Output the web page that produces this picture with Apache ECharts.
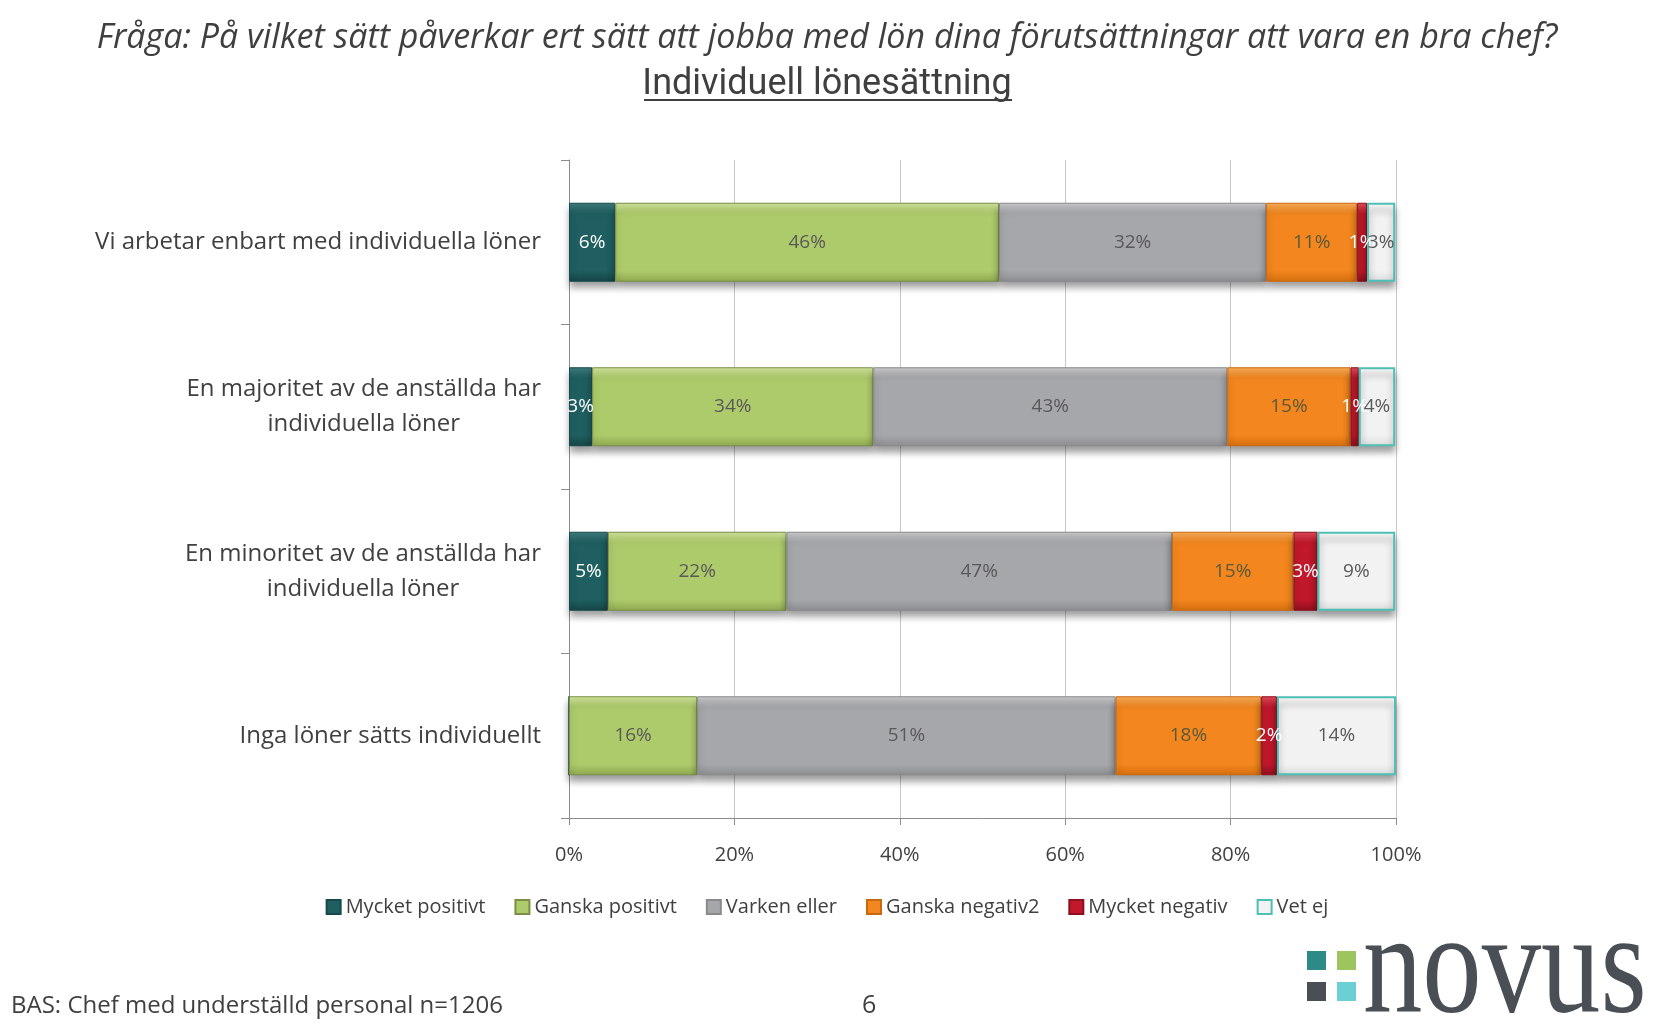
<!DOCTYPE html>
<html>
<head>
<meta charset="utf-8">
<script src="https://cdn.jsdelivr.net/npm/echarts@6/dist/echarts.min.js"></script>
<style>
html,body{margin:0;padding:0;background:#fff;}
#c{width:1654px;height:1029px;}
</style>
</head>
<body>
<div id="c"></div>
<script>
// ---- data ----
var categories = [
  'Vi arbetar enbart med individuella löner',
  'En majoritet av de anställda har\nindividuella löner',
  'En minoritet av de anställda har\nindividuella löner',
  'Inga löner sätts individuellt'
];
var seriesNames = ['Mycket positivt', 'Ganska positivt', 'Varken eller', 'Ganska negativ2', 'Mycket negativ', 'Vet ej'];
var mycketPositivt = [5.6, 2.8, 4.7, 0];
var ganskaPositivt = [46.4, 34.0, 21.6, 15.5];
var varkenEller    = [32.3, 42.8, 46.6, 50.6];
var ganskaNegativ  = [11.0, 14.9, 14.7, 17.6];
var mycketNegativ  = [1.2, 1.0, 2.9, 1.9];
var vetEj          = [3.4, 4.4, 9.4, 14.4];
var xTicks = [0, 20, 40, 60, 80, 100];

var titleText = 'Fråga: På vilket sätt påverkar ert sätt att jobba med lön dina förutsättningar att vara en bra chef?';
var subtitleText = 'Individuell lönesättning';
var footerText = 'BAS: Chef med underställd personal n=1206';
var pageNumber = '6';

// ---- styles ----
var palette = [
  {top:'#3d7c7e', base:'#1f5f61', bottom:'#164446', border:'#174a4c', label:'#ffffff'},
  {top:'#cfe39b', base:'#aecb6b', bottom:'#8ea84f', border:'#7a8f45', label:'#595959'},
  {top:'#c9c9cc', base:'#a6a7ab', bottom:'#8c8d90', border:'#8a8a8c', label:'#595959'},
  {top:'#f9ad5a', base:'#f3861e', bottom:'#d56e0e', border:'#c8690f', label:'#5a5a3a'},
  {top:'#e04a5a', base:'#c2182b', bottom:'#8e0f1d', border:'#8e0f1d', label:'#ffffff'},
  {top:'#ffffff', base:'#f2f2f2', bottom:'#dcdcdc', border:'#4dbfb5', label:'#595959'}
];
var dataSets = [mycketPositivt, ganskaPositivt, varkenEller, ganskaNegativ, mycketNegativ, vetEj];

function grad(p){
  return new echarts.graphic.LinearGradient(0,0,0,1,[
    {offset:0, color:p.top},
    {offset:0.14, color:p.base},
    {offset:0.86, color:p.base},
    {offset:1, color:p.bottom}
  ]);
}

var series = dataSets.map(function(d, i){
  var p = palette[i];
  return {
    name: seriesNames[i],
    type: 'bar',
    stack: 'total',
    barWidth: 79,
    data: d,
    itemStyle: {
      color: grad(p),
      borderColor: p.border,
      borderWidth: i === 5 ? 2 : 1,
      shadowColor: 'rgba(0,0,0,0.4)',
      shadowBlur: 7,
      shadowOffsetY: 6
    },
    label: {
      show: true,
      position: 'inside',
      color: p.label,
      fontFamily: "'Open Sans',sans-serif",
      fontSize: 19,
      formatter: function(prm){ return prm.value > 0 ? Math.round(prm.value) + '%' : ''; }
    }
  };
});

var chart = echarts.init(document.getElementById('c'));
chart.setOption({
  backgroundColor: '#ffffff',
  animation: false,
  title: [
    {
      text: titleText,
      left: 'center',
      top: 16,
      textStyle: {fontFamily: "'Open Sans',sans-serif", fontStyle:'italic', fontWeight:'normal', fontSize: 34, color:'#3f3f3f'}
    },
    {
      text: subtitleText,
      left: 'center',
      top: 62,
      textStyle: {fontFamily: "'Roboto',sans-serif", fontWeight:'normal', fontSize: 36, color:'#3f3f3f'}
    }
  ],
  legend: {
    data: seriesNames,
    bottom: 107,
    left: 'center',
    itemWidth: 14,
    itemHeight: 14,
    itemGap: 29,
    icon: 'rect',
    textStyle: {fontFamily: "'Open Sans',sans-serif", fontSize: 20, color:'#404040'}
  },
  grid: {left: 569, right: 258, top: 160, bottom: 211, containLabel: false},
  xAxis: {
    type: 'value',
    min: 0, max: 100, interval: 20,
    axisLine: {show:true, lineStyle:{color:'#8c8c8c'}},
    axisTick: {show:true, length:7, lineStyle:{color:'#8c8c8c'}},
    splitLine: {show:true, lineStyle:{color:'#c8c8c8'}},
    axisLabel: {
      margin: 27,
      color:'#404040',
      fontFamily: "'Open Sans',sans-serif",
      fontSize: 20,
      formatter: function(v){ return xTicks.indexOf(v) >= 0 ? v + '%' : ''; }
    }
  },
  yAxis: {
    type: 'category',
    inverse: true,
    data: categories,
    axisLine: {show:true, lineStyle:{color:'#8c8c8c'}},
    axisTick: {show:true, length:8, lineStyle:{color:'#8c8c8c'}},
    axisLabel: {
      margin: 28,
      color:'#404040',
      align: 'right',
      formatter: function(v){
        return v.split('\n').map(function(s){ return '{c|' + s + '}'; }).join('\n');
      },
      rich: {
        c: {
          align: 'center',
          color:'#404040',
          fontFamily: "'Open Sans',sans-serif",
          fontSize: 24,
          lineHeight: 35
        }
      }
    }
  },
  series: series,
  graphic: [
    {type:'line', shape:{x1:644, y1:100, x2:1012, y2:100}, style:{stroke:'#3f3f3f', lineWidth:2}},
    {type:'text', left: 11, top: 994, style:{text: footerText, fontFamily:"'Open Sans',sans-serif", fontSize: 24, fill:'#404040'}},
    {type:'text', left: 862, top: 993, style:{text: pageNumber, fontFamily:"'Open Sans',sans-serif", fontSize: 25, fill:'#404040'}},
    {type:'rect', shape:{x:1307, y:951, width:19, height:19}, style:{fill:'#2e8a87'}},
    {type:'rect', shape:{x:1337, y:951, width:19, height:19}, style:{fill:'#9cc45f'}},
    {type:'rect', shape:{x:1307, y:982, width:19, height:19}, style:{fill:'#4a4f55'}},
    {type:'rect', shape:{x:1337, y:982, width:19, height:19}, style:{fill:'#6ccfd6'}},
    {type:'text', x: 1363, y: 903, scaleX: 1.12, scaleY: 1.35, style:{text:'novus', fontFamily:"'Liberation Serif','DejaVu Serif',serif", fontSize: 106, fill:'#4a4f55'}}
  ]
});
</script>
</body>
</html>
